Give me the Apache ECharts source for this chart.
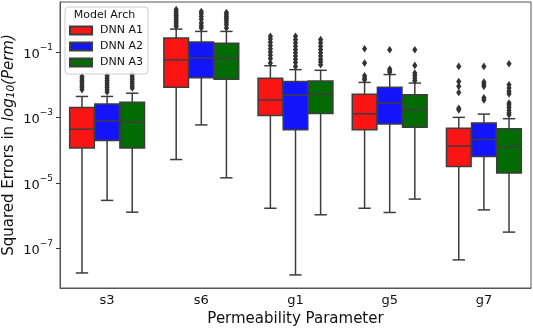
<!DOCTYPE html>
<html>
<head>
<meta charset="utf-8">
<script src="https://cdn.jsdelivr.net/npm/echarts@6/dist/echarts.min.js"></script>
<style>html,body{margin:0;padding:0;background:#fff}#main{width:533px;height:329px}</style>
</head>
<body>
<div id="main"></div>
<script>
const categories = ['s3', 's6', 'g1', 'g5', 'g7'];
const seriesNames = ['DNN A1', 'DNN A2', 'DNN A3'];
const colors = ['#fa1414', '#1414fa', '#036b03'];
const tickExponents = [-7, -5, -3, -1];

// box stats, log10 of squared error: [lower whisker, Q1, median, Q3, upper whisker]
const boxA1 = [
  [-7.76, -3.94, -3.36, -2.70, -2.36],
  [-4.29, -2.08, -1.24, -0.57, -0.30],
  [-5.78, -2.94, -2.47, -1.80, -1.42],
  [-5.78, -3.38, -2.89, -2.29, -1.93],
  [-7.36, -4.50, -3.88, -3.33, -3.00]
];
const boxA2 = [
  [-5.54, -3.71, -3.11, -2.59, -2.36],
  [-3.23, -1.79, -1.18, -0.69, -0.37],
  [-7.82, -3.38, -2.32, -1.90, -1.54],
  [-5.91, -3.20, -2.56, -2.08, -1.69],
  [-5.83, -4.20, -3.68, -3.17, -2.90]
];
const boxA3 = [
  [-5.90, -3.94, -3.14, -2.54, -2.26],
  [-4.85, -1.83, -1.20, -0.73, -0.37],
  [-5.98, -2.88, -2.29, -1.89, -1.56],
  [-5.50, -3.30, -2.76, -2.31, -1.95],
  [-6.51, -4.70, -3.91, -3.35, -3.04]
];

// outliers (log10), one list per category
const fliersA1 = [
  [-1.75, -1.82, -1.88, -1.95, -2.02, -2.08, -2.15],
  [0.30, 0.24, 0.18, 0.12, 0.06, 0.0, -0.06, -0.12, -0.18, -0.22],
  [-0.52, -0.6, -0.7, -0.8, -0.9, -1.0, -1.1, -1.2, -1.34],
  [-0.90, -1.34, -1.73, -1.80, -1.85],
  [-1.44, -1.90, -2.05, -2.24, -2.72, -2.77]
];
const fliersA2 = [
  [-1.73, -1.80, -1.87, -1.94, -2.01, -2.08, -2.15, -2.22],
  [0.24, 0.17, 0.09, 0.0, -0.11, -0.2, -0.265],
  [-0.52, -0.62, -0.72, -0.82, -0.92, -1.02, -1.12, -1.22, -1.32, -1.44],
  [-0.93, -1.52, -1.57, -1.62],
  [-1.44, -1.92, -1.98, -2.05, -2.40, -2.47]
];
const fliersA3 = [
  [-1.69, -1.76, -1.83, -1.90, -1.97, -2.04, -2.10],
  [0.21, 0.15, 0.09, 0.03, -0.03, -0.1, -0.17, -0.265],
  [-0.62, -0.72, -0.82, -0.92, -1.02, -1.12, -1.22, -1.3, -1.39],
  [-0.93, -1.41, -1.64, -1.72, -1.80, -1.88],
  [-1.36, -2.0, -2.1, -2.2, -2.28, -2.56, -2.62, -2.7, -2.78, -2.86, -2.92]
];

const boxes = [boxA1, boxA2, boxA3];
const fliers = [fliersA1, fliersA2, fliersA3];
const pow10 = e => Math.pow(10, e);
const lineColor = '#3d3d3d';
const font = 'DejaVu Sans';

function slotGeom(api, ci, slot) {
  const v = api.value(1);
  const band = api.coord([1, v])[0] - api.coord([0, v])[0];
  const slotW = band * 0.8 / 3;
  const cx = api.coord([ci, v])[0] + (slot - 1) * slotW;
  return { cx: cx, bw: slotW * 0.98 };
}

function boxRenderer(slot, color) {
  return function (params, api) {
    const ci = api.value(0);
    const g = slotGeom(api, ci, slot);
    const ys = [1, 2, 3, 4, 5].map(d => api.coord([ci, api.value(d)])[1]);
    const cx = g.cx, bw = g.bw, cap = bw / 4;
    const st = { stroke: lineColor, lineWidth: 1.5 };
    return {
      type: 'group',
      children: [
        { type: 'line', shape: { x1: cx, y1: ys[1], x2: cx, y2: ys[0] }, style: st },
        { type: 'line', shape: { x1: cx, y1: ys[3], x2: cx, y2: ys[4] }, style: st },
        { type: 'line', shape: { x1: cx - cap, y1: ys[0], x2: cx + cap, y2: ys[0] }, style: st },
        { type: 'line', shape: { x1: cx - cap, y1: ys[4], x2: cx + cap, y2: ys[4] }, style: st },
        { type: 'rect', shape: { x: cx - bw / 2, y: ys[3], width: bw, height: ys[1] - ys[3] },
          style: { fill: color, stroke: lineColor, lineWidth: 1.5 } },
        { type: 'line', shape: { x1: cx - bw / 2, y1: ys[2], x2: cx + bw / 2, y2: ys[2] }, style: st }
      ]
    };
  };
}

function flierRenderer(slot) {
  return function (params, api) {
    const ci = api.value(0);
    const g = slotGeom(api, ci, slot);
    const y = api.coord([ci, api.value(1)])[1];
    const x = g.cx;
    return {
      type: 'polygon',
      shape: { points: [[x, y - 3.8], [x + 2.6, y], [x, y + 3.8], [x - 2.6, y]] },
      style: { fill: '#333' }
    };
  };
}

const series = [];
seriesNames.forEach((name, k) => {
  series.push({
    name: name,
    type: 'custom',
    renderItem: boxRenderer(k, colors[k]),
    itemStyle: { color: colors[k], borderColor: lineColor, borderWidth: 1 },
    encode: { x: 0, y: [1, 2, 3, 4, 5] },
    data: boxes[k].map((b, i) => [i].concat(b.map(pow10)))
  });
});
seriesNames.forEach((name, k) => {
  const pts = [];
  fliers[k].forEach((list, i) => list.forEach(e => pts.push([i, pow10(e)])));
  series.push({
    name: name + ' fliers',
    type: 'custom',
    renderItem: flierRenderer(k),
    encode: { x: 0, y: 1 },
    data: pts
  });
});

const chart = echarts.init(document.getElementById('main'), null, { renderer: 'canvas' });
chart.setOption({
  animation: false,
  textStyle: { fontFamily: font },
  grid: {
    left: 60, top: 2, width: 471, height: 286,
    outerBoundsMode: 'none', containLabel: false,
    show: true, borderColor: '#555', borderWidth: 1
  },
  legend: {
    data: seriesNames,
    orient: 'vertical',
    left: 65,
    top: 7,
    icon: 'rect',
    itemWidth: 22,
    itemHeight: 8,
    itemGap: 5,
    padding: [18, 5, 6, 4],
    backgroundColor: 'rgba(255,255,255,0.85)',
    borderColor: '#cccccc',
    borderWidth: 1,
    borderRadius: 3,
    textStyle: { fontFamily: font, fontSize: 11, color: '#111', padding: [0, 0, 0, 3] }
  },
  graphic: [{
    type: 'text',
    x: 104.5,
    y: 15.5,
    z: 100,
    style: { text: 'Model Arch', fontFamily: font, fontSize: 11, fill: '#111', align: 'center', verticalAlign: 'middle' }
  }],
  xAxis: {
    type: 'category',
    data: categories,
    name: 'Permeability Parameter',
    nameLocation: 'middle',
    nameGap: 24,
    nameMoveOverlap: false,
    nameTextStyle: { fontFamily: font, fontSize: 15, color: '#111' },
    axisLine: { lineStyle: { color: '#555' } },
    axisTick: { alignWithLabel: true, length: 4, lineStyle: { color: '#333' } },
    axisLabel: { fontFamily: font, fontSize: 13, color: '#111', margin: 6 },
    splitLine: { show: false }
  },
  yAxis: {
    type: 'log',
    logBase: 10,
    min: pow10(-8.22),
    max: pow10(0.53),
    name: '{a|Squared Errors in }{b|log}{c|10}{b|(Perm)}',
    nameLocation: 'middle',
    nameGap: 43,
    nameMoveOverlap: false,
    nameTextStyle: {
      fontFamily: font,
      fontSize: 15,
      color: '#111',
      rich: {
        a: { fontFamily: font, fontSize: 15, color: '#111' },
        b: { fontFamily: font, fontSize: 15, fontStyle: 'italic', color: '#111' },
        c: { fontFamily: font, fontSize: 10.5, fontStyle: 'italic', color: '#111', verticalAlign: 'bottom' }
      }
    },
    axisLine: { show: true, lineStyle: { color: '#555' } },
    axisTick: { show: true, length: 4, customValues: tickExponents.map(pow10), lineStyle: { color: '#333' } },
    axisLabel: {
      fontFamily: font,
      color: '#111',
      margin: 7,
      customValues: tickExponents.map(pow10),
      formatter: v => '{b|10}{s|\u2212' + Math.abs(Math.round(Math.log10(v))) + '}',
      rich: {
        b: { fontFamily: font, fontSize: 13, color: '#111', lineHeight: 18, verticalAlign: 'bottom' },
        s: { fontFamily: font, fontSize: 9, color: '#111', lineHeight: 18, verticalAlign: 'top' }
      }
    },
    minorTick: { show: false },
    splitLine: { show: false }
  },
  series: series
});
</script>
</body>
</html>
